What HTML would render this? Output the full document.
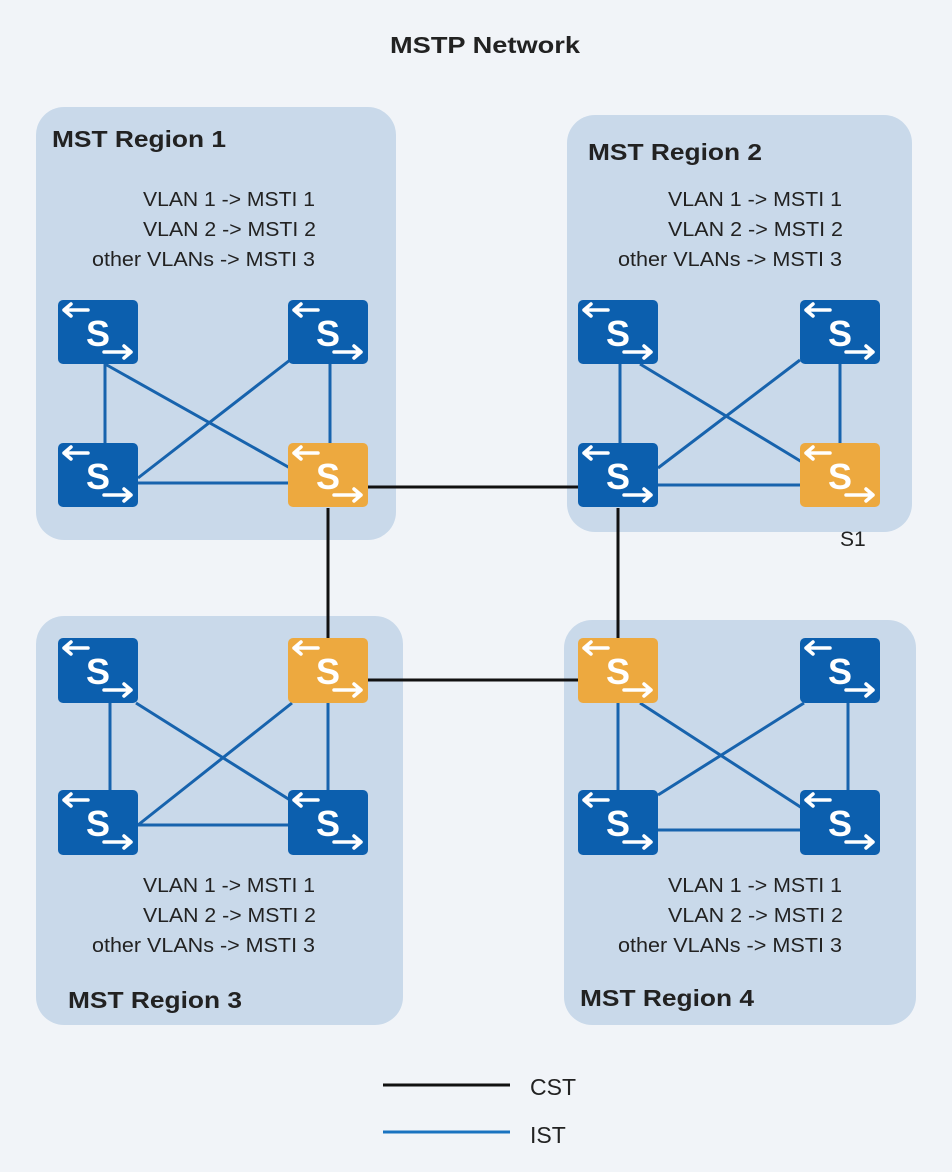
<!DOCTYPE html>
<html><head><meta charset="utf-8"><style>
html,body{margin:0;padding:0;background:#f1f4f8;}
svg{display:block;font-family:"Liberation Sans",sans-serif;}
</style></head><body>
<svg width="952" height="1172" viewBox="0 0 952 1172" xmlns="http://www.w3.org/2000/svg">
<defs>
<g id="arr" fill="none" stroke="#fff" stroke-width="3.5" stroke-linecap="round" stroke-linejoin="round">
<path d="M6 10 H30 M13 4 L6 10 L13 16"/>
<path d="M46 52 H73 M66 46 L73 52 L66 58"/>
</g>
</defs>
<rect width="952" height="1172" fill="#f1f4f8"/>
<text x="390" y="53" textLength="190" lengthAdjust="spacingAndGlyphs" font-size="23" font-weight="bold" fill="#222">MSTP Network</text>
<g fill="#c9d9ea">
<rect x="36" y="107" width="360" height="433" rx="28"/>
<rect x="567" y="115" width="345" height="417" rx="28"/>
<rect x="36" y="616" width="367" height="409" rx="28"/>
<rect x="564" y="620" width="352" height="405" rx="28"/>
</g>
<g font-size="23" font-weight="bold" fill="#222" lengthAdjust="spacingAndGlyphs">
<text x="52" y="147" textLength="174" lengthAdjust="spacingAndGlyphs">MST Region 1</text>
<text x="588" y="160" textLength="174" lengthAdjust="spacingAndGlyphs">MST Region 2</text>
<text x="68" y="1008" textLength="174" lengthAdjust="spacingAndGlyphs">MST Region 3</text>
<text x="580" y="1006" textLength="174" lengthAdjust="spacingAndGlyphs">MST Region 4</text>
</g>
<g font-size="20" fill="#222">
<text x="143" y="206" textLength="172" lengthAdjust="spacingAndGlyphs">VLAN 1 -&gt; MSTI 1</text>
<text x="143" y="236" textLength="173" lengthAdjust="spacingAndGlyphs">VLAN 2 -&gt; MSTI 2</text>
<text x="92" y="266" textLength="223" lengthAdjust="spacingAndGlyphs">other VLANs -&gt; MSTI 3</text>
<text x="668" y="206" textLength="174" lengthAdjust="spacingAndGlyphs">VLAN 1 -&gt; MSTI 1</text>
<text x="668" y="236" textLength="175" lengthAdjust="spacingAndGlyphs">VLAN 2 -&gt; MSTI 2</text>
<text x="618" y="266" textLength="224" lengthAdjust="spacingAndGlyphs">other VLANs -&gt; MSTI 3</text>
<text x="143" y="892" textLength="172" lengthAdjust="spacingAndGlyphs">VLAN 1 -&gt; MSTI 1</text>
<text x="143" y="922" textLength="173" lengthAdjust="spacingAndGlyphs">VLAN 2 -&gt; MSTI 2</text>
<text x="92" y="952" textLength="223" lengthAdjust="spacingAndGlyphs">other VLANs -&gt; MSTI 3</text>
<text x="668" y="892" textLength="174" lengthAdjust="spacingAndGlyphs">VLAN 1 -&gt; MSTI 1</text>
<text x="668" y="922" textLength="175" lengthAdjust="spacingAndGlyphs">VLAN 2 -&gt; MSTI 2</text>
<text x="618" y="952" textLength="224" lengthAdjust="spacingAndGlyphs">other VLANs -&gt; MSTI 3</text>
</g>
<text x="840" y="546" font-size="21" fill="#222">S1</text>
<g stroke="#1763ad" stroke-width="3" fill="none">
<path d="M105 364 V443 M330 364 V443 M138 483 H288 M105 364 L290 468 M290 360 L138 478"/>
<path d="M620 364 V443 M840 364 V443 M658 485 H800 M640 364 L802 462 M800 360 L658 468"/>
<path d="M110 703 V790 M328 703 V790 M138 825 H288 M136 703 L290 800 M292 703 L138 825"/>
<path d="M618 703 V790 M848 703 V790 M658 830 H800 M640 703 L802 808 M804 703 L658 795"/>
</g>
<g stroke="#111" stroke-width="3" fill="none">
<path d="M368 487 H578 M328 508 V638 M618 508 V638 M368 680 H578"/>
</g>
<g font-size="36" font-weight="bold" fill="#fff" text-anchor="middle">
<g transform="translate(58,300)"><rect width="80" height="64" rx="5" fill="#0c5fae"/><use href="#arr"/><text x="40" y="46">S</text></g>
<g transform="translate(288,300)"><rect width="80" height="64" rx="5" fill="#0c5fae"/><use href="#arr"/><text x="40" y="46">S</text></g>
<g transform="translate(58,443)"><rect width="80" height="64" rx="5" fill="#0c5fae"/><use href="#arr"/><text x="40" y="46">S</text></g>
<g transform="translate(288,443)"><rect width="80" height="64" rx="5" fill="#eda93f"/><use href="#arr"/><text x="40" y="46">S</text></g>
<g transform="translate(578,300)"><rect width="80" height="64" rx="5" fill="#0c5fae"/><use href="#arr"/><text x="40" y="46">S</text></g>
<g transform="translate(800,300)"><rect width="80" height="64" rx="5" fill="#0c5fae"/><use href="#arr"/><text x="40" y="46">S</text></g>
<g transform="translate(578,443)"><rect width="80" height="64" rx="5" fill="#0c5fae"/><use href="#arr"/><text x="40" y="46">S</text></g>
<g transform="translate(800,443)"><rect width="80" height="64" rx="5" fill="#eda93f"/><use href="#arr"/><text x="40" y="46">S</text></g>
<g transform="translate(58,638)"><rect width="80" height="65" rx="5" fill="#0c5fae"/><use href="#arr"/><text x="40" y="46">S</text></g>
<g transform="translate(288,638)"><rect width="80" height="65" rx="5" fill="#eda93f"/><use href="#arr"/><text x="40" y="46">S</text></g>
<g transform="translate(58,790)"><rect width="80" height="65" rx="5" fill="#0c5fae"/><use href="#arr"/><text x="40" y="46">S</text></g>
<g transform="translate(288,790)"><rect width="80" height="65" rx="5" fill="#0c5fae"/><use href="#arr"/><text x="40" y="46">S</text></g>
<g transform="translate(578,638)"><rect width="80" height="65" rx="5" fill="#eda93f"/><use href="#arr"/><text x="40" y="46">S</text></g>
<g transform="translate(800,638)"><rect width="80" height="65" rx="5" fill="#0c5fae"/><use href="#arr"/><text x="40" y="46">S</text></g>
<g transform="translate(578,790)"><rect width="80" height="65" rx="5" fill="#0c5fae"/><use href="#arr"/><text x="40" y="46">S</text></g>
<g transform="translate(800,790)"><rect width="80" height="65" rx="5" fill="#0c5fae"/><use href="#arr"/><text x="40" y="46">S</text></g>
</g>
<line x1="383" y1="1085" x2="510" y2="1085" stroke="#111" stroke-width="3"/>
<line x1="383" y1="1132" x2="510" y2="1132" stroke="#1a73c0" stroke-width="3"/>
<text x="530" y="1095" font-size="23" fill="#222">CST</text>
<text x="530" y="1143" font-size="23" fill="#222">IST</text>
</svg>
</body></html>
